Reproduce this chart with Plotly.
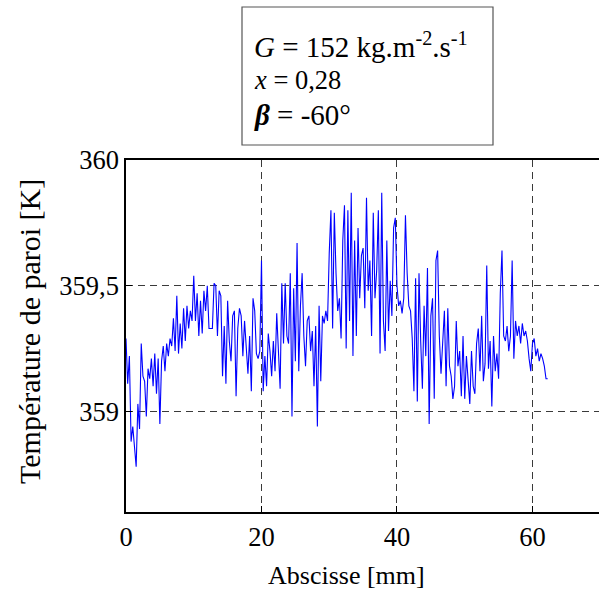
import plotly.graph_objects as go

# Sampling step along the tube (mm)
step_mm = 0.25

# Wall temperature [K], 4 samples per mm
temperature_K = [
    359.29, 359.11, 359.22, 358.88,   # 0
    358.94, 358.85, 358.78, 359.03,   # 1
    358.93, 359.27, 359.14, 359.12,   # 2
    358.98, 359.17, 359.13, 359.21,   # 3
    359.10, 359.23, 359.07, 359.21,   # 4
    358.95, 359.20, 359.26, 359.16,   # 5
    359.27, 359.22, 359.29, 359.26,   # 6
    359.37, 359.24, 359.46, 359.23,   # 7
    359.35, 359.25, 359.41, 359.28,   # 8
    359.42, 359.33, 359.40, 359.36,   # 9
    359.54, 359.36, 359.47, 359.30,   # 10
    359.44, 359.31, 359.48, 359.40,   # 11
    359.50, 359.33, 359.33, 359.33,   # 12
    359.51, 359.50, 359.30, 359.48,   # 13
    359.46, 359.14, 359.34, 359.11,   # 14
    359.44, 359.28, 359.20, 359.38,   # 15
    359.40, 359.06, 359.33, 359.41,   # 16
    359.38, 359.22, 359.36, 359.27,   # 17
    359.15, 359.30, 359.08, 359.45,   # 18
    359.40, 359.23, 359.21, 359.24,   # 19
    359.60, 359.08, 359.22, 359.10,   # 20
    359.31, 359.24, 359.14, 359.28,   # 21
    359.16, 359.39, 359.22, 359.09,   # 22
    359.51, 359.27, 359.51, 359.30,   # 23
    359.27, 359.55, 358.98, 359.49,   # 24
    359.20, 359.67, 359.16, 359.42,   # 25
    359.55, 359.30, 359.18, 359.36,   # 26
    359.38, 359.24, 359.32, 359.10,   # 27
    359.34, 358.94, 359.42, 359.12,   # 28
    359.38, 359.35, 359.40, 359.36,   # 29
    359.63, 359.80, 359.33, 359.79,   # 30
    359.55, 359.40, 359.45, 359.29,   # 31
    359.68, 359.82, 359.25, 359.80,   # 32
    359.36, 359.87, 359.22, 359.68,   # 33
    359.30, 359.73, 359.45, 359.62,   # 34
    359.65, 359.41, 359.85, 359.48,   # 35
    359.60, 359.30, 359.79, 359.45,   # 36
    359.56, 359.80, 359.23, 359.87,   # 37
    359.36, 359.24, 359.68, 359.32,   # 38
    359.52, 359.38, 359.73, 359.77,   # 39
    359.50, 359.42, 359.44, 359.39,   # 40
    359.45, 359.78, 359.55, 359.42,   # 41
    359.40, 359.29, 359.08, 359.53,   # 42
    359.04, 359.55, 359.28, 359.09,   # 43
    359.42, 359.22, 359.57, 358.95,   # 44
    359.38, 359.45, 359.05, 359.60,   # 45
    359.64, 359.30, 359.15, 359.26,   # 46
    359.40, 359.10, 359.41, 359.18,   # 47
    359.14, 359.05, 359.10, 359.36,   # 48
    359.18, 359.24, 359.06, 359.30,   # 49
    359.05, 359.22, 359.12, 359.03,   # 50
    359.24, 359.10, 359.07, 359.27,   # 51
    359.33, 359.16, 359.38, 359.12,   # 52
    359.19, 359.58, 359.17, 359.28,   # 53
    359.02, 359.30, 359.16, 359.23,   # 54
    359.13, 359.47, 359.64, 359.30,   # 55
    359.28, 359.34, 359.24, 359.30,   # 56
    359.60, 359.21, 359.36, 359.30,   # 57
    359.34, 359.27, 359.35, 359.30,   # 58
    359.32, 359.28, 359.21, 359.16,   # 59
    359.27, 359.29, 359.22, 359.25,   # 60
    359.20, 359.23, 359.21, 359.18,   # 61
    359.13, 359.13,                   # 62
]
abscisse_mm = [round(i * step_mm, 2) for i in range(len(temperature_K))]

x_tick_vals = [0, 20, 40, 60]
x_tick_text = ["0", "20", "40", "60"]
y_tick_vals = [359, 359.5, 360]
y_tick_text = ["359", "359,5", "360"]

info_lines = [
    "<i>G</i> = 152 kg.m<sup>-2</sup>.s<sup>-1</sup>",
    "<i>x</i> = 0,28",
    "<b><i>β</i></b> = -60°",
]
info_sizes = [29, 26.5, 29]
info_y = [45, 80, 115]

FONT = "Liberation Serif, Times New Roman, serif"
W, H = 599, 590
L, R, T, B = 126, 0, 160, 78
PW, PH = W - L - R, H - T - B


def px(xpix):
    return (xpix - L) / PW


def py(ypix):
    return (H - B - ypix) / PH


fig = go.Figure()
fig.add_trace(go.Scatter(
    x=abscisse_mm, y=temperature_K, mode="lines",
    line=dict(color="#0000FF", width=1.1), showlegend=False,
))

fig.update_layout(
    width=W, height=H,
    margin=dict(l=L, r=R, t=T, b=B, autoexpand=False),
    paper_bgcolor="white", plot_bgcolor="white",
    font=dict(family=FONT, size=26, color="black"),
    xaxis=dict(
        range=[0, 69.82], tickvals=x_tick_vals, ticktext=x_tick_text,
        showgrid=True, gridcolor="#3a3a3a", griddash="7px,5px", gridwidth=1,
        zeroline=False, showline=True, linecolor="black", linewidth=1.5,
        mirror=True, ticks="inside", ticklen=6, tickcolor="black",
        tickfont=dict(family=FONT, size=26.5), fixedrange=True,
    ),
    yaxis=dict(
        range=[358.6, 360], tickvals=y_tick_vals, ticktext=y_tick_text,
        showgrid=True, gridcolor="#3a3a3a", griddash="7px,5px", gridwidth=1,
        zeroline=False, showline=True, linecolor="black", linewidth=1.5,
        mirror=False, ticks="inside", ticklen=6, tickcolor="black",
        tickfont=dict(family=FONT, size=26.5), fixedrange=True,
    ),
    shapes=[dict(
        type="rect", xref="paper", yref="paper",
        x0=px(242), x1=px(493), y0=py(145), y1=py(7),
        line=dict(color="#555555", width=1.2), fillcolor="white", layer="above",
    )],
)

annotations = [
    dict(text="Abscisse [mm]", x=px(346), y=py(575), xref="paper", yref="paper",
         xanchor="center", yanchor="middle", showarrow=False,
         font=dict(family=FONT, size=26)),
    dict(text="Température de paroi [K]", x=px(29), y=py(332), xref="paper", yref="paper",
         xanchor="center", yanchor="middle", showarrow=False, textangle=-90,
         font=dict(family=FONT, size=30)),
]
for txt, yy, sz in zip(info_lines, info_y, info_sizes):
    annotations.append(dict(
        text=txt, x=px(252), y=py(yy), xref="paper", yref="paper",
        xanchor="left", yanchor="middle", showarrow=False,
        font=dict(family=FONT, size=sz), align="left",
    ))
fig.update_layout(annotations=annotations)

fig.write_html(
    "out.html",
    config={"displayModeBar": False},
    post_script="document.body.style.margin='0px';document.body.style.padding='0px';",
)
